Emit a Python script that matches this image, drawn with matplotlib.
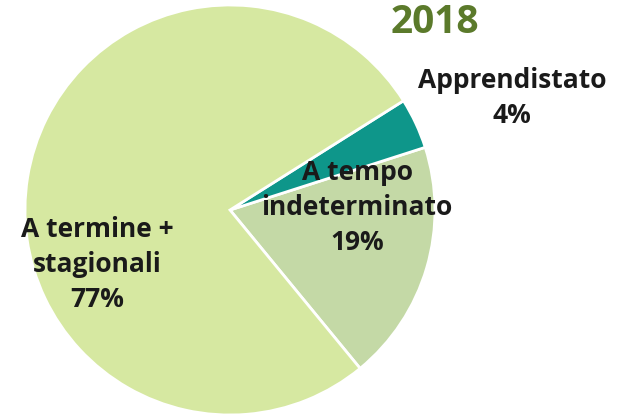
import matplotlib
matplotlib.use("Agg")
import matplotlib.pyplot as plt

labels = ["A tempo\nindeterminato", "Apprendistato", "A termine +\nstagionali"]
values = [19, 4, 77]
colors = ["#C4D9A6", "#0E968A", "#D6E8A1"]
title = "2018"

W, H = 623, 415
fig = plt.figure(figsize=(W / 100, H / 100), dpi=100)
fig.patch.set_facecolor("white")
ax = fig.add_axes([25 / W, 0 / H, 410 / W, 410 / H])
ax.set_xlim(-1, 1)
ax.set_ylim(-1, 1)
ax.set_aspect("equal")
ax.axis("off")

start = -50.6
wedges, _ = ax.pie(values, colors=colors, startangle=start, counterclock=True,
                   radius=1.0, wedgeprops=dict(edgecolor="white", linewidth=2))
ax.set_xlim(-1, 1)
ax.set_ylim(-1, 1)

font = ["Open Sans", "DejaVu Sans"]
pos = [(0.62, 0.01), (1.376, 0.546), (-0.649, -0.268)]
for lab, v, (x, y) in zip(labels, values, pos):
    ax.text(x, y, f"{lab}\n{v}%", ha="center", va="center", fontsize=19,
            fontweight="bold", family=font, color="#1a1a1a",
            linespacing=1.38, clip_on=False)

ax.text(1.0, 0.863, title, ha="center", va="baseline", fontsize=28,
        fontweight="bold", family=font, color="#5B7A2B", clip_on=False)

fig.savefig("out.png", dpi=100, facecolor="white")
